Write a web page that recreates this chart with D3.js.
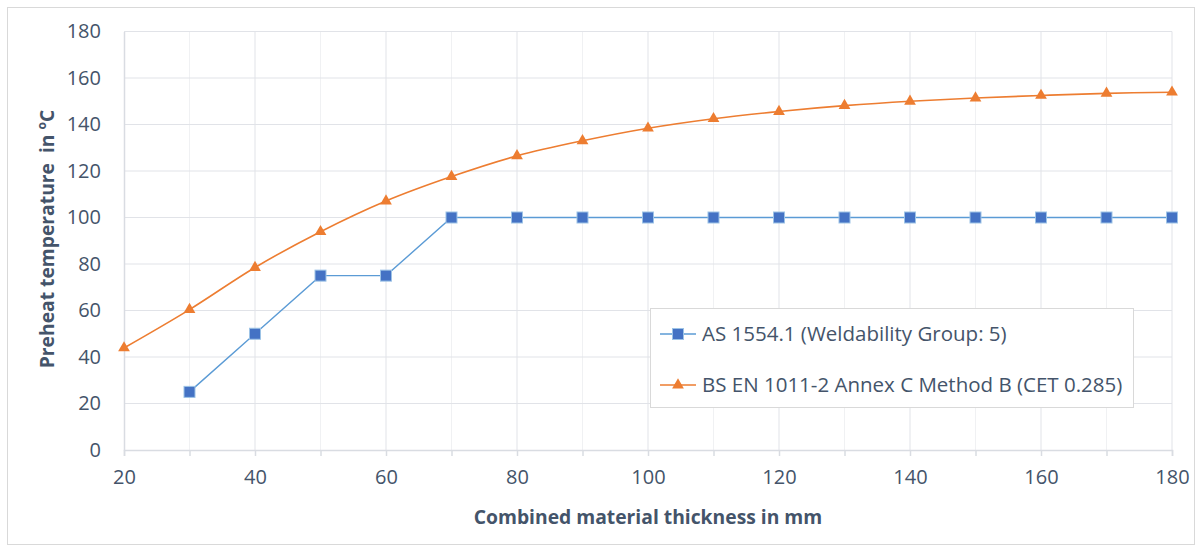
<!DOCTYPE html>
<html><head><meta charset="utf-8">
<script src="https://cdn.jsdelivr.net/npm/d3@7"></script>
<style>body{margin:0;background:#fff}svg{display:block}text{font-family:"Open Sans",Lato,sans-serif}</style>
</head><body><svg id="c" width="1203" height="547"></svg>
<script>
const thickness = [20,30,40,50,60,70,80,90,100,110,120,130,140,150,160,170,180];
const asThickness = [30,40,50,60,70,80,90,100,110,120,130,140,150,160,170,180];
const asValues = [25,50,75,75,100,100,100,100,100,100,100,100,100,100,100,100];
const bsValues = [43.9,60.4,78.5,93.9,107.1,117.6,126.5,133.0,138.4,142.5,145.6,148.1,150.0,151.4,152.5,153.4,153.9];
const xTicks = [20,40,60,80,100,120,140,160,180];
const yTicks = [0,20,40,60,80,100,120,140,160,180];
const seriesNames = ["AS 1554.1 (Weldability Group: 5)","BS EN 1011-2 Annex C Method B (CET 0.285)"];

const svg = d3.select("#c");
const txt = "#44546A";
svg.append("rect").attr("x",7.5).attr("y",7.5).attr("width",1187).attr("height",537).attr("fill","#fff").attr("stroke","#D9D9D9");

const x = d3.scaleLinear().domain([20,180]).range([124,1172]);
const y = d3.scaleLinear().domain([0,180]).range([450,31.5]);

svg.append("g").selectAll("line").data(d3.range(30,180,20)).join("line")
  .attr("x1",d=>x(d)).attr("x2",d=>x(d)).attr("y1",y(180)).attr("y2",y(0))
  .attr("stroke","#F0F1F3").attr("stroke-width",1);
svg.append("g").selectAll("line").data(xTicks.slice(1)).join("line")
  .attr("x1",d=>x(d)).attr("x2",d=>x(d)).attr("y1",y(180)).attr("y2",y(0))
  .attr("stroke","#E1E3E8").attr("stroke-width",1);
svg.append("g").selectAll("line").data(yTicks.slice(1)).join("line")
  .attr("x1",x(20)).attr("x2",x(180)).attr("y1",d=>y(d)).attr("y2",d=>y(d))
  .attr("stroke","#E1E3E8").attr("stroke-width",1);

const xAxis = d3.axisBottom(x).tickValues(d3.range(20,181,10)).tickSize(6).tickFormat(d=> d%20===0? d : "");
const gx = svg.append("g").attr("transform",`translate(0,${y(0)})`).call(xAxis);
gx.select(".domain").attr("stroke","#D9DCE2").attr("stroke-width",1.5);
gx.selectAll(".tick line").attr("stroke","#D9DCE2").attr("stroke-width",1.5);
gx.selectAll("text").attr("fill",txt).attr("font-size",20).attr("dy","1.25em");

const yAxis = d3.axisLeft(y).tickValues(yTicks).tickSize(0).tickPadding(23);
const gy = svg.append("g").attr("transform",`translate(${x(20)},0)`).call(yAxis);
gy.select(".domain").attr("stroke","#D9DCE2").attr("stroke-width",1.5);
gy.selectAll("text").attr("fill",txt).attr("font-size",20);

svg.append("text").attr("x",648).attr("y",524).attr("text-anchor","middle")
  .attr("font-weight","bold").attr("font-size",19.3).attr("fill",txt).text("Combined material thickness in mm");
const yt = svg.append("text").attr("transform","translate(54,239) rotate(-90)").attr("text-anchor","middle")
  .attr("font-weight","bold").attr("font-size",19.3).attr("fill",txt);
yt.append("tspan").text("Preheat temperature\u00A0 in ");
yt.append("tspan").attr("font-size",12).attr("dy",-8).text("o");
yt.append("tspan").attr("dy",8).text("C");

const blue = "#5B9BD5", blueM = "#4472C4", orange = "#ED7D31";
const asData = asThickness.map((t,i)=>[t,asValues[i]]);
const bsData = thickness.map((t,i)=>[t,bsValues[i]]);

svg.append("path").datum(bsData).attr("fill","none").attr("stroke",orange).attr("stroke-width",1.6)
  .attr("d",d3.line().x(d=>x(d[0])).y(d=>y(d[1])).curve(d3.curveCatmullRom.alpha(0.5)));
svg.append("path").datum(asData).attr("fill","none").attr("stroke",blue).attr("stroke-width",1.4)
  .attr("d",d3.line().x(d=>x(d[0])).y(d=>y(d[1])));

const tri = d3.symbol().type(d3.symbolTriangle).size(60);
svg.append("g").selectAll("path").data(bsData).join("path")
  .attr("transform",d=>`translate(${x(d[0])},${y(d[1])})`).attr("d",tri).attr("fill",orange);
svg.append("g").selectAll("rect").data(asData).join("rect")
  .attr("x",d=>x(d[0])-5.5).attr("y",d=>y(d[1])-5.5).attr("width",11).attr("height",11)
  .attr("fill",blueM).attr("stroke","#9DC3E6").attr("stroke-width",1);

const lg = svg.append("g");
lg.append("rect").attr("x",650.5).attr("y",308.5).attr("width",483).attr("height",99)
  .attr("fill","#fff").attr("stroke","#D9D9D9");
const ly = [334,385];
lg.append("line").attr("x1",660).attr("x2",696).attr("y1",ly[0]).attr("y2",ly[0]).attr("stroke",blue).attr("stroke-width",1.4);
lg.append("rect").attr("x",672.5).attr("y",ly[0]-5.5).attr("width",11).attr("height",11).attr("fill",blueM).attr("stroke","#9DC3E6");
lg.append("line").attr("x1",660).attr("x2",696).attr("y1",ly[1]).attr("y2",ly[1]).attr("stroke",orange).attr("stroke-width",1.6);
lg.append("path").attr("transform",`translate(678,${ly[1]})`).attr("d",tri).attr("fill",orange);
seriesNames.forEach((n,i)=>{
  lg.append("text").attr("x",702).attr("y",ly[i]).attr("dy","0.35em").attr("font-size",20.5).attr("fill",txt).text(n);
});
</script></body></html>
